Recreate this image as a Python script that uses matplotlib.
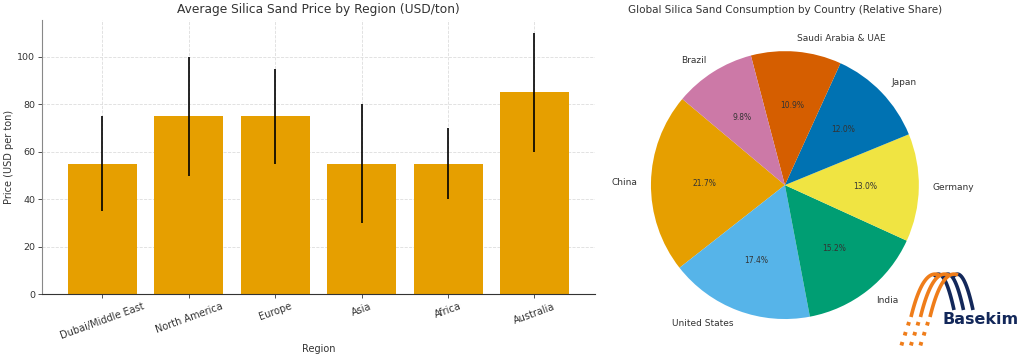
import matplotlib.pyplot as plt
import numpy as np

# bar chart data
regions = ['Dubai/Middle East', 'North America', 'Europe', 'Asia', 'Africa', 'Australia']
prices = [55, 75, 75, 55, 55, 85]
price_err = [20, 25, 20, 25, 15, 25]

# pie chart data
countries = ['China', 'United States', 'India', 'Germany', 'Japan', 'Saudi Arabia & UAE', 'Brazil']
shares = [21.7, 17.4, 15.2, 13.0, 12.0, 10.9, 9.8]
pie_colors = ['#E69F00', '#56B4E9', '#009E73', '#F0E442', '#0072B2', '#D55E00', '#CC79A7']

txt = '#333333'
plt.rcParams['font.family'] = 'DejaVu Sans'
plt.rcParams['text.color'] = txt
plt.rcParams['axes.labelcolor'] = txt
plt.rcParams['xtick.color'] = txt
plt.rcParams['ytick.color'] = txt

fig = plt.figure(figsize=(10.24, 3.58), dpi=100)

# left: bar chart
ax = fig.add_axes([0.041, 0.178, 0.540, 0.766])
x = np.arange(len(regions))
ax.bar(x, prices, width=0.8, color='#E69F00', yerr=price_err,
       error_kw=dict(ecolor='black', elinewidth=1.2, capsize=0), zorder=2)
ax.set_xticks(x)
ax.set_xticklabels(regions, rotation=20, fontsize=7)
ax.tick_params(axis='y', labelsize=6.8, pad=2)
ax.tick_params(axis='x', pad=2)
ax.set_ylim(0, 115.5)
ax.set_xlim(-0.7, 5.7)
ax.set_yticks([0, 20, 40, 60, 80, 100])
ax.grid(True, linestyle='--', color='#dddddd', linewidth=0.6, zorder=0)
ax.set_axisbelow(True)
for s in ['top', 'right']:
    ax.spines[s].set_visible(False)
ax.spines['left'].set_color('#888888')
ax.spines['bottom'].set_color('#333333')
ax.tick_params(length=3, width=0.6)
ax.set_title('Average Silica Sand Price by Region (USD/ton)', fontsize=8.8, pad=5)
ax.set_xlabel('Region', fontsize=7, labelpad=2)
ax.set_ylabel('Price (USD per ton)', fontsize=7, labelpad=2)

# right: pie chart
ax2 = fig.add_axes([0.603, 0.015, 0.327, 0.936])
wedges, labels, pcts = ax2.pie(shares, labels=countries, colors=pie_colors,
                               autopct='%1.1f%%', startangle=140,
                               textprops=dict(fontsize=6.5, color=txt))
for p in pcts:
    p.set_fontsize(5.5)
ax2.set_aspect('equal')
fig.text(0.767, 0.972, 'Global Silica Sand Consumption by Country (Relative Share)',
         ha='center', va='center', fontsize=7.5)

# logo (Basekim), drawn in local pixel coordinates
lax = fig.add_axes([890 / 1024, 0, 134 / 1024, 98 / 358])
lax.set_xlim(0, 134)
lax.set_ylim(98, 0)
lax.axis('off')
orange, navy = '#ef7d1a', '#13285a'
t = np.linspace(0, 1, 40)


def bez(p0, p1, p2):
    p0, p1, p2 = map(np.array, (p0, p1, p2))
    pts = np.outer((1 - t) ** 2, p0) + np.outer(2 * (1 - t) * t, p1) + np.outer(t ** 2, p2)
    return pts[:, 0], pts[:, 1]


for i in range(3):
    dx = 9.5 * i
    bx, by = bez((44 + dx, 17), (54 + dx, 4), (64 + dx, 50))
    lax.plot(bx, by, color=navy, lw=2.6, solid_capstyle='butt')
for i in range(3):
    dx = 9.5 * i
    ox, oy = bez((21 + dx, 57), (33 + dx, 8), (49 + dx, 15))
    lax.plot(ox, oy, color=orange, lw=2.6, solid_capstyle='butt')
    for k in range(3):
        x0 = 19 + dx - k * 3.3
        y0 = 62 + k * 10
        lax.plot([x0, x0 - 1.0], [y0, y0 + 3.5], color=orange, lw=2.8,
                 solid_capstyle='butt')
lax.text(52, 60, 'Basekim', fontsize=11.5, fontweight='bold', color=navy,
         va='center', ha='left')

fig.savefig('out.png', dpi=100)
